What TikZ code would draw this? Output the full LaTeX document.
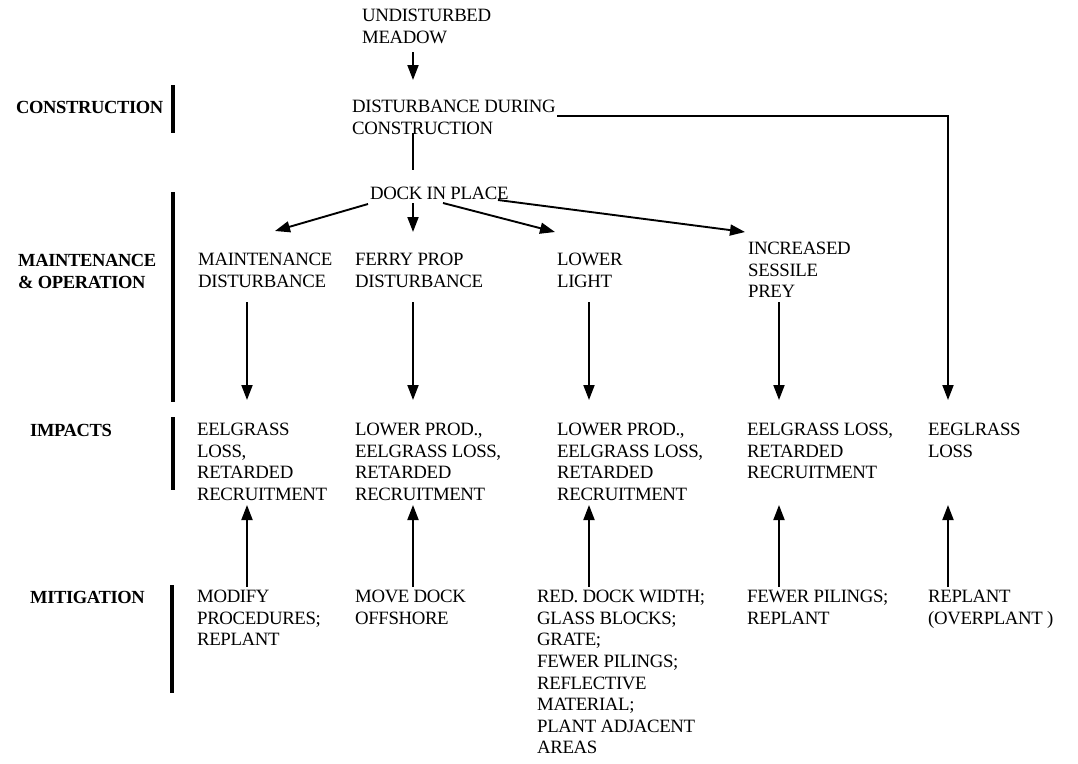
\documentclass[tikz,border=0pt]{standalone}
\usepackage{fontspec}
\setmainfont{Liberation Serif}[LetterSpace=-2]
\usetikzlibrary{arrows.meta}
\begin{document}
\begin{tikzpicture}[x=1pt,y=-1pt,
  txt/.style={anchor=north west,inner sep=0pt,align=left,font=\fontsize{18.8}{21.6}\selectfont},
  lab/.style={txt,font=\fontsize{18.5}{21.6}\selectfont\bfseries},
  arr/.style={line width=1.9pt,-{Triangle[length=15pt,width=11pt]}},
  ln/.style={line width=1.9pt},
  bar/.style={line width=3.8pt}]
\useasboundingbox (0,0) rectangle (1078,763);
% top nodes
\node[txt] (und) at (362,9) {UNDISTURBED\\MEADOW};
\node[txt] (dur) at (352,100) {DISTURBANCE DURING\\CONSTRUCTION};
\node[txt] (dock) at (370,187) {DOCK IN PLACE};
% row 2
\node[txt] (md) at (198,253) {MAINTENANCE\\DISTURBANCE};
\node[txt] (fp) at (355,253) {FERRY PROP\\DISTURBANCE};
\node[txt] (ll) at (557,253) {LOWER\\LIGHT};
\node[txt] (isp) at (748,242) {INCREASED\\SESSILE\\PREY};
% impacts
\node[txt] (i1) at (197,423) {EELGRASS\\LOSS,\\RETARDED\\RECRUITMENT};
\node[txt] (i2) at (355,423) {LOWER PROD.,\\EELGRASS LOSS,\\RETARDED\\RECRUITMENT};
\node[txt] (i3) at (557,423) {LOWER PROD.,\\EELGRASS LOSS,\\RETARDED\\RECRUITMENT};
\node[txt] (i4) at (747,423) {EELGRASS LOSS,\\RETARDED\\RECRUITMENT};
\node[txt] (i5) at (928,423) {EEGLRASS\\LOSS};
% mitigation
\node[txt] (m1) at (197,590) {MODIFY\\PROCEDURES;\\REPLANT};
\node[txt] (m2) at (355,590) {MOVE DOCK\\OFFSHORE};
\node[txt] (m3) at (537,590) {RED. DOCK WIDTH;\\GLASS BLOCKS;\\GRATE;\\FEWER PILINGS;\\REFLECTIVE\\MATERIAL;\\PLANT ADJACENT\\AREAS};
\node[txt] (m4) at (747,590) {FEWER PILINGS;\\REPLANT};
\node[txt] (m5) at (928,590) {REPLANT\\(OVERPLANT )};
% left labels
\node[lab] (lc) at (16,101) {CONSTRUCTION};
\node[lab] (lm) at (18,254) {MAINTENANCE\\\& OPERATION};
\node[lab] (li) at (30,424) {IMPACTS};
\node[lab] (lt) at (30,591) {MITIGATION};
% bars
\draw[bar] (173,85) -- (173,133);
\draw[bar] (173,192) -- (173,402);
\draw[bar] (173,417) -- (173,490);
\draw[bar] (172,585) -- (172,693);
% top connectors
\draw[arr] ([shift={(51,43)}]und.north west) -- ([shift={(61,-20)}]dur.north west);
\draw[ln] ([shift={(61,33)}]dur.north west) -- ([shift={(43,-17)}]dock.north west);
\draw[arr] ([shift={(205,16)}]dur.north west) -| ([shift={(20,-23)}]i5.north west);
% dock arrows
\draw[arr] ([shift={(-2,17)}]dock.north west) -- ([shift={(77,-22)}]md.north west);
\draw[arr] ([shift={(43,16)}]dock.north west) -- ([shift={(58,-21)}]fp.north west);
\draw[arr] ([shift={(73,16)}]dock.north west) -- ([shift={(-2,-21)}]ll.north west);
\draw[arr] ([shift={(128,13)}]dock.north west) -- ([shift={(-3,-10)}]isp.north west);
% row 2 to impacts
\draw[arr] ([shift={(49,49)}]md.north west) -- ([shift={(50,-23)}]i1.north west);
\draw[arr] ([shift={(58,49)}]fp.north west) -- ([shift={(58,-23)}]i2.north west);
\draw[arr] ([shift={(32,49)}]ll.north west) -- ([shift={(32,-23)}]i3.north west);
\draw[arr] ([shift={(31,60)}]isp.north west) -- ([shift={(32,-23)}]i4.north west);
% mitigation to impacts
\draw[arr] ([shift={(50,-3)}]m1.north west) -- ([shift={(50,82)}]i1.north west);
\draw[arr] ([shift={(58,-3)}]m2.north west) -- ([shift={(58,82)}]i2.north west);
\draw[arr] ([shift={(52,-3)}]m3.north west) -- ([shift={(32,82)}]i3.north west);
\draw[arr] ([shift={(32,-3)}]m4.north west) -- ([shift={(32,82)}]i4.north west);
\draw[arr] ([shift={(20,-3)}]m5.north west) -- ([shift={(20,82)}]i5.north west);
\end{tikzpicture}
\end{document}
